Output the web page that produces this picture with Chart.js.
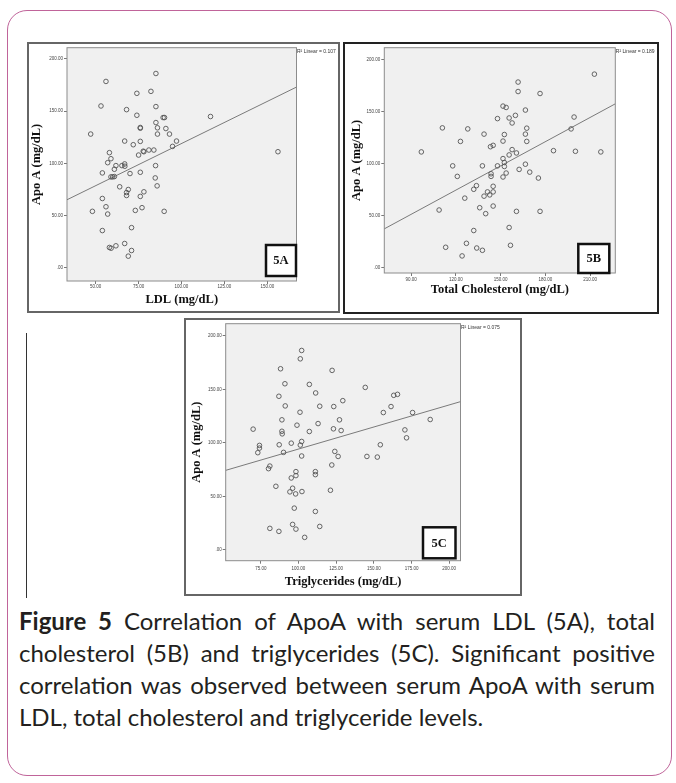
<!DOCTYPE html>
<html>
<head>
<meta charset="utf-8">
<script src="https://cdn.jsdelivr.net/npm/chart.js@4.4.0/dist/chart.umd.min.js"></script>
<style>
  body { margin: 0; width: 676px; height: 783px; background: #fff; position: relative; overflow: hidden; }
  #outline { position: absolute; left: 7px; top: 10px; width: 665px; height: 766px; box-sizing: border-box;
    border: 1.5px solid #c0649a; border-radius: 20px; }
  .frame { position: absolute; box-sizing: border-box; background: #fff; }
  .frame canvas { display: block; }
  #frameA { left: 27px; top: 42px; width: 313px; height: 271px; border: 2px solid #666; }
  #frameB { left: 343px; top: 42px; width: 316px; height: 272px; border: 2px solid #222; }
  #frameC { left: 184px; top: 318px; width: 338px; height: 278px; border: 2px solid #666; }
  #stray { position: absolute; left: 26px; top: 333px; width: 1px; height: 265px; background: #333; }
  #caption { position: absolute; left: 19px; top: 605px; width: 636px; font-family: Lato, sans-serif;
    font-size: 24px; line-height: 32px; color: #231f20; }
  #caption .jl { text-align: justify; text-align-last: justify; }
</style>
</head>
<body>
<div id="outline"></div>
<div id="stray"></div>
<div class="frame" id="frameA"><canvas id="chartA" width="309" height="267"></canvas></div>
<div class="frame" id="frameB"><canvas id="chartB" width="312" height="268"></canvas></div>
<div class="frame" id="frameC"><canvas id="chartC" width="334" height="274"></canvas></div>
<div id="caption">
  <div class="jl"><b>Figure 5</b> Correlation of ApoA with serum LDL (5A), total</div>
  <div class="jl">cholesterol (5B) and triglycerides (5C). Significant positive</div>
  <div class="jl">correlation was observed between serum ApoA with serum</div>
  <div>LDL, total cholesterol and triglyceride levels.</div>
</div>
<script>
// tick values
const apoTicks = [0, 50, 100, 150, 200];
const ldlTicks = [50, 75, 100, 125, 150];
const tcTicks = [90, 120, 150, 180, 210];
const tgTicks = [75, 100, 125, 150, 175, 200];

// 5A: LDL vs Apo A
const ldlX = [85.1, 56.0, 82.2, 74.0, 53.1, 85.1, 68.0, 74.0, 116.9, 89.3, 90.1, 85.1, 76.0, 76.0, 86.0,
  90.9, 47.1, 86.0, 93.0, 76.0, 66.9, 97.1, 71.9, 94.8, 58.0, 78.1, 81.0, 83.9, 77.7, 156.2, 75.0, 58.9,
  57.0, 66.9, 61.8, 65.3, 67.0, 84.9, 60.9, 53.9, 70.0, 76.0, 58.9, 59.9, 60.9, 84.7, 85.8, 64.0, 69.0,
  78.1, 68.0, 68.0, 76.0, 53.9, 56.0, 77.0, 57.0, 48.1, 73.1, 89.9, 53.9, 70.9, 66.9, 61.8, 58.0, 59.0,
  70.9, 69.0];
const ldlApoA = [186.0, 178.4, 168.9, 167.0, 154.9, 154.3, 151.4, 146.0, 144.8, 143.8, 143.8, 139.0, 134.3,
  133.6, 134.0, 133.3, 128.0, 128.0, 128.0, 121.0, 121.3, 121.3, 117.8, 116.2, 110.2, 111.1, 112.7, 112.7,
  111.6, 111.1, 107.9, 104.4, 100.6, 99.4, 97.8, 97.8, 97.2, 97.8, 94.3, 90.8, 90.2, 91.4, 87.0, 87.0,
  87.3, 86.0, 78.4, 77.5, 74.9, 72.7, 72.0, 69.2, 68.3, 66.3, 58.4, 57.5, 51.4, 54.0, 54.9, 54.0, 35.6,
  38.4, 23.2, 21.0, 19.4, 18.7, 16.5, 11.1];
const ldlFitX = [33.3, 167.0];
const ldlFitY = [65.1, 173.0];

// 5B: total cholesterol vs Apo A
const tcX = [212.8, 161.7, 161.7, 176.4, 151.6, 153.7, 166.6, 159.9, 147.9, 155.7, 199.2, 157.7, 111.0,
  128.0, 167.5, 197.2, 138.9, 152.5, 166.6, 123.1, 151.6, 167.5, 143.2, 145.0, 157.7, 160.6, 185.4, 200.1,
  96.9, 217.1, 155.7, 151.6, 152.5, 117.9, 137.8, 147.9, 152.5, 166.6, 162.4, 153.7, 169.5, 143.6, 143.6,
  121.0, 151.6, 175.3, 133.8, 145.0, 132.0, 141.2, 145.0, 142.7, 138.9, 126.0, 145.0, 136.0, 108.8, 140.0,
  160.6, 176.4, 155.7, 132.0, 113.2, 127.1, 134.0, 137.8, 156.6, 124.2];
const tcApoA = [186.0, 178.4, 169.3, 167.4, 155.3, 154.0, 151.5, 146.4, 143.3, 143.9, 144.8, 139.1, 134.4,
  133.4, 134.1, 133.4, 128.4, 128.0, 128.4, 121.4, 121.7, 121.4, 116.3, 117.6, 113.5, 110.3, 112.5, 111.9,
  111.3, 111.3, 108.4, 104.9, 101.1, 97.9, 97.9, 97.9, 97.3, 99.5, 94.5, 91.0, 91.9, 90.3, 87.8, 87.8,
  87.2, 86.2, 78.9, 78.3, 75.4, 72.9, 72.9, 70.0, 68.8, 66.9, 59.3, 57.7, 55.5, 52.0, 54.2, 54.2, 38.7,
  35.8, 19.7, 23.5, 19.0, 16.8, 21.6, 11.4];
const tcFitX = [72.1, 226.8];
const tcFitY = [37.4, 157.5];

// 5C: triglycerides vs Apo A
const tgX = [102.1, 101.2, 88.1, 122.3, 91.0, 107.2, 144.3, 111.4, 87.0, 163.2, 165.7, 129.4, 91.2, 114.1,
  123.4, 161.4, 101.0, 156.3, 175.7, 89.0, 127.2, 187.4, 113.0, 99.0, 69.9, 123.2, 128.3, 170.6, 89.0,
  107.2, 89.2, 171.7, 102.1, 95.2, 101.2, 74.1, 74.1, 87.2, 154.3, 73.0, 90.1, 124.1, 102.1, 126.3, 145.4,
  152.3, 81.0, 122.1, 80.1, 98.3, 111.2, 98.3, 111.2, 95.2, 85.0, 96.1, 94.3, 98.1, 102.3, 121.2, 97.2,
  111.2, 96.1, 81.0, 87.0, 98.3, 114.1, 104.1];
const tgApoA = [186.4, 178.6, 169.3, 167.8, 155.3, 154.7, 151.9, 146.7, 143.6, 144.5, 145.4, 139.5, 134.6,
  134.3, 134.0, 134.0, 128.7, 128.4, 128.4, 121.6, 121.6, 121.9, 118.1, 116.6, 112.9, 113.2, 111.6, 112.2,
  110.9, 110.7, 108.5, 104.8, 101.4, 99.8, 98.0, 97.7, 95.2, 98.3, 98.3, 90.9, 91.2, 92.1, 87.8, 87.4,
  87.4, 86.8, 78.4, 79.4, 76.0, 73.2, 73.2, 69.5, 70.4, 67.3, 59.5, 57.7, 54.3, 52.4, 54.6, 55.8, 39.1,
  36.0, 23.9, 20.2, 17.4, 19.5, 22.0, 11.8];
const tgFitX = [51.7, 207.5];
const tgFitY = [74.4, 138.6];

const serif = "'Liberation Serif', 'Times New Roman', serif";
const sans = "'Liberation Sans', Arial, sans-serif";

function fmt(v) {
  return v === 0 ? '.00' : v.toFixed(2);
}

const panelPlugin = (p) => ({
  id: 'panel',
  beforeDatasetsDraw(chart) {
    const { ctx, chartArea: a } = chart;
    ctx.save();
    ctx.fillStyle = '#f0f0f0';
    ctx.fillRect(a.left, a.top, a.width, a.height);
    ctx.strokeStyle = '#8c8c8c';
    ctx.lineWidth = 1;
    ctx.strokeRect(a.left, a.top, a.width, a.height);
    ctx.restore();
  },
  afterDraw(chart) {
    const { ctx, chartArea: a } = chart;
    ctx.save();
    // panel tag box
    const bx = a.right - p.box.right - p.box.w;
    const by = a.bottom - p.box.bottom - p.box.h;
    ctx.fillStyle = '#fff';
    ctx.fillRect(bx, by, p.box.w, p.box.h);
    ctx.strokeStyle = '#111';
    ctx.lineWidth = 2.5;
    ctx.strokeRect(bx, by, p.box.w, p.box.h);
    ctx.fillStyle = '#111';
    ctx.font = `bold 12.5px ${serif}`;
    ctx.textAlign = 'center';
    ctx.textBaseline = 'middle';
    ctx.fillText(p.tag, bx + p.box.w / 2, by + p.box.h / 2 + 0.5);
    // R squared note
    ctx.font = `5px ${sans}`;
    ctx.fillStyle = '#333';
    ctx.textAlign = 'left';
    ctx.fillText(p.r2, a.right + 0.5, a.top + 4);
    ctx.restore();
  },
});

function buildChart(id, p) {
  const points = p.xs.map((x, i) => ({ x, y: p.ys[i] }));
  const fit = p.fitX.map((x, i) => ({ x, y: p.fitY[i] }));
  const tickFont = { family: sans, size: 4.5 };
  const titleFont = { family: serif, size: 12.5, weight: 'bold' };
  const grid = {
    drawOnChartArea: false, drawTicks: true, tickLength: 3, color: '#555', lineWidth: 0.8,
  };

  new Chart(document.getElementById(id), {
    type: 'scatter',
    data: {
      datasets: [{
        data: points,
        pointRadius: 2.3,
        pointHoverRadius: 2.3,
        pointBorderWidth: 0.9,
        borderColor: '#555',
        backgroundColor: 'rgba(0,0,0,0)',
      }, {
        data: fit,
        showLine: true,
        pointRadius: 0,
        borderColor: '#7a7a7a',
        borderWidth: 1,
      }],
    },
    options: {
      responsive: false,
      animation: false,
      events: [],
      layout: { padding: p.pad },
      plugins: { legend: { display: false }, tooltip: { enabled: false } },
      scales: {
        x: {
          type: 'linear',
          min: p.xMin,
          max: p.xMax,
          afterBuildTicks: (axis) => { axis.ticks = p.xTicks.map((v) => ({ value: v })); },
          afterFit: (scale) => { scale.height = p.xHeight; },
          ticks: {
            font: tickFont, color: '#444', padding: p.xTickPad, autoSkip: false, maxRotation: 0,
            callback: fmt,
          },
          grid,
          border: { display: false },
          title: {
            display: true, text: p.xTitle, font: titleFont, color: '#111',
            padding: { top: 0, bottom: p.xTitlePad },
          },
        },
        y: {
          type: 'linear',
          min: p.yMin,
          max: p.yMax,
          afterBuildTicks: (axis) => { axis.ticks = apoTicks.map((v) => ({ value: v })); },
          afterFit: (scale) => { scale.width = p.yWidth; },
          ticks: {
            font: tickFont, color: '#444', padding: 1, autoSkip: false, callback: fmt,
          },
          grid,
          border: { display: false },
          title: {
            display: true, text: 'Apo A (mg/dL)', font: titleFont, color: '#111',
            padding: { top: p.yTitlePad, bottom: 0 },
          },
        },
      },
    },
    plugins: [panelPlugin(p)],
  });
}

buildChart('chartA', {
  xs: ldlX, ys: ldlApoA, fitX: ldlFitX, fitY: ldlFitY, xTicks: ldlTicks,
  xMin: 33.3, xMax: 167.0, yMin: -12.7, yMax: 210.7,
  xTitle: 'LDL (mg/dL)', r2: 'R\u00b2 Linear = 0.107', tag: '5A',
  pad: { left: 0, top: 2.5, right: 41.5, bottom: 0 },
  yWidth: 38, xHeight: 30, yTitlePad: 0, xTitlePad: 3.5, xTickPad: 0,
  box: { w: 30, h: 31, right: 0.5, bottom: 5 },
});

buildChart('chartB', {
  xs: tcX, ys: tcApoA, fitX: tcFitX, fitY: tcFitY, xTicks: tcTicks,
  xMin: 72.1, xMax: 226.8, yMin: -5, yMax: 211.4,
  xTitle: 'Total Cholesterol (mg/dL)', r2: 'R\u00b2 Linear = 0.189', tag: '5B',
  pad: { left: 0, top: 1.3, right: 41.7, bottom: 0 },
  yWidth: 39.3, xHeight: 39, yTitlePad: 4.3, xTitlePad: 14.5, xTickPad: 1,
  box: { w: 31, h: 29, right: 6, bottom: 0 },
});

buildChart('chartC', {
  xs: tgX, ys: tgApoA, fitX: tgFitX, fitY: tgFitY, xTicks: tgTicks,
  xMin: 51.7, xMax: 207.5, yMin: -10, yMax: 211.4,
  xTitle: 'Triglycerides (mg/dL)', r2: 'R\u00b2 Linear = 0.075', tag: '5C',
  pad: { left: 0, top: 2.7, right: 59.5, bottom: 0 },
  yWidth: 39.7, xHeight: 33.3, yTitlePad: 3.3, xTitlePad: 4.8, xTickPad: 2,
  box: { w: 32.5, h: 31, right: 5, bottom: 2.4 },
});
</script>
</body>
</html>
